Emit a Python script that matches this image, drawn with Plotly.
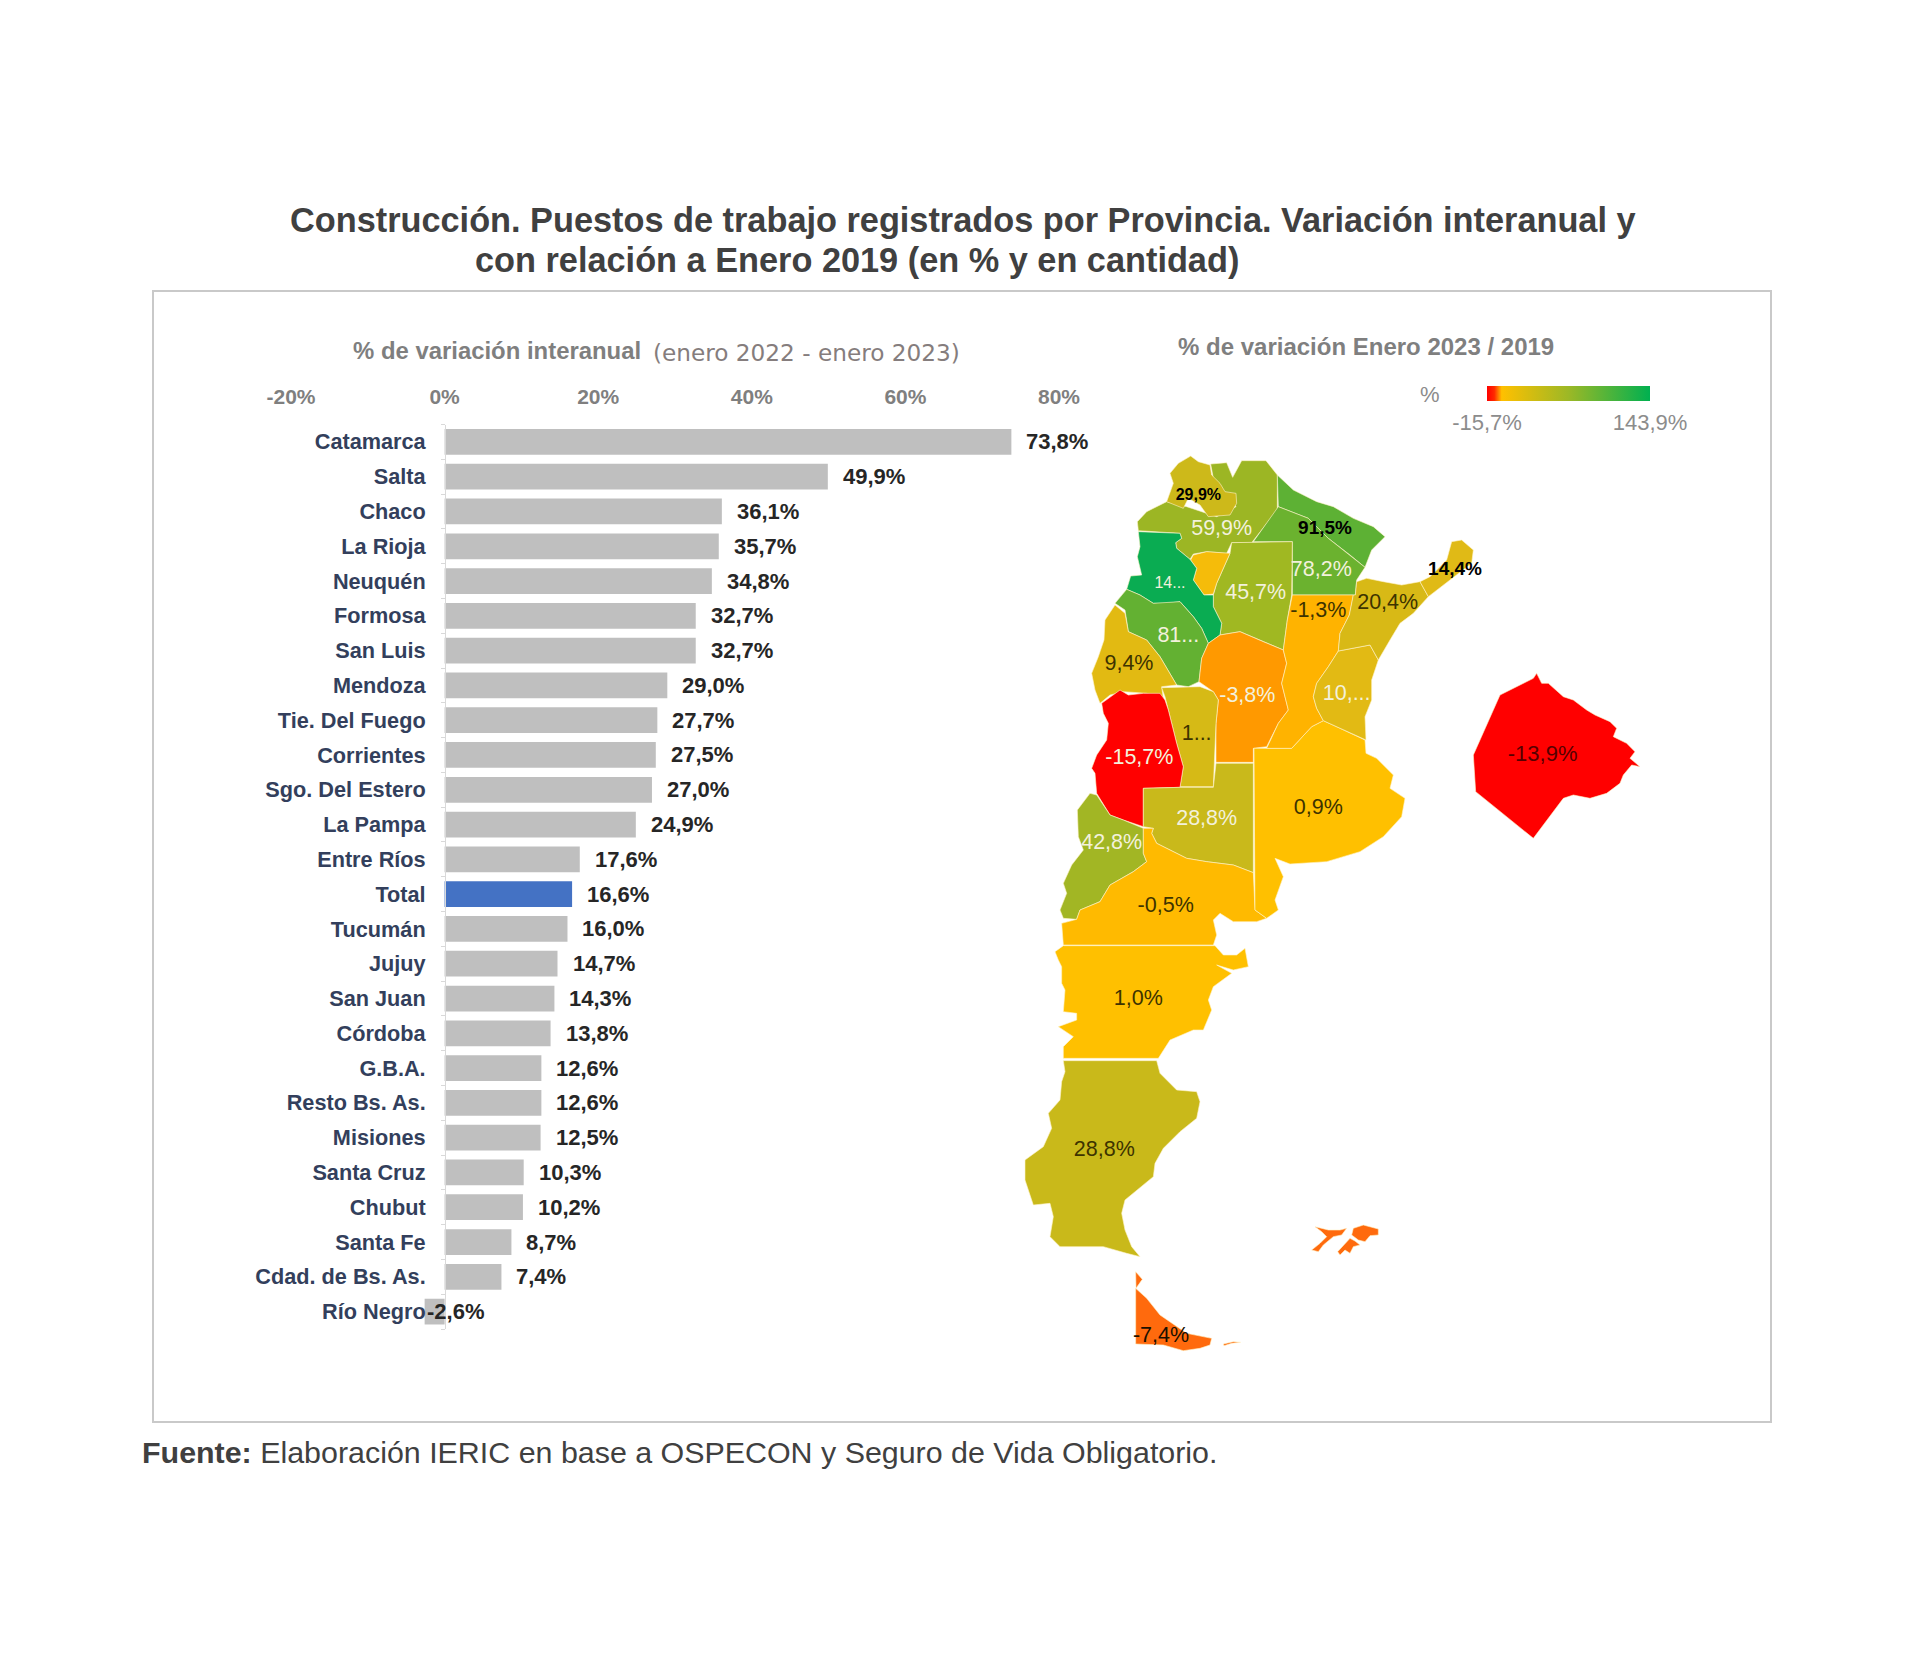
import plotly.graph_objects as go

# ---------- bar chart data ----------
CATEGORIES = ["Catamarca","Salta","Chaco","La Rioja","Neuquén","Formosa","San Luis","Mendoza",
              "Tie. Del Fuego","Corrientes","Sgo. Del Estero","La Pampa","Entre Ríos","Total",
              "Tucumán","Jujuy","San Juan","Córdoba","G.B.A.","Resto Bs. As.","Misiones",
              "Santa Cruz","Chubut","Santa Fe","Cdad. de Bs. As.","Río Negro"]
VALUES = [73.8,49.9,36.1,35.7,34.8,32.7,32.7,29.0,27.7,27.5,27.0,24.9,17.6,16.6,
          16.0,14.7,14.3,13.8,12.6,12.6,12.5,10.3,10.2,8.7,7.4,-2.6]
X_TICKS = [-20,0,20,40,60,80]
X_TICK_LABELS = ["-20%","0%","20%","40%","60%","80%"]

# ---------- map data: outlines (map units) ----------
SALTA = [(632,432),(680,428),(698,472),(725,422),(798,422),(832,465),(832,570),(755,668),(695,668),(680,700),(620,695),(580,702),(570,718),(530,685),(527,668),(545,655),(540,640),(415,632),(412,605),(440,575),(500,545),(560,560),(650,590),(708,560),(672,515),(640,475)]
JUJUY = [(572,408),(595,425),(630,435),(635,465),(660,490),(675,515),(708,520),(710,550),(690,585),(625,590),(600,555),(565,535),(550,565),(500,545),(520,490),(510,460),(535,430)]
FORMOSA = [(832,465),(880,510),(950,545),(1000,560),(1060,595),(1120,620),(1155,650),(1115,690),(1095,742),(1050,705),(985,655),(925,595),(835,560)]
CHACO = [(835,560),(925,595),(985,655),(1050,705),(1095,742),(1070,780),(1066,825),(877,825),(877,665),(760,665)]
SGO_ESTERO = [(695,668),(877,665),(875,825),(862,900),(850,990),(790,965),(720,935),(660,945),(665,910),(640,860),(640,825),(650,790),(690,700)]
TUCUMAN = [(580,705),(620,695),(690,700),(650,790),(640,822),(612,825),(580,780),(590,745),(572,720)]
CATAMARCA = [(415,635),(540,640),(545,655),(527,668),(530,685),(570,718),(590,745),(580,780),(612,825),(640,825),(640,860),(665,910),(660,945),(625,970),(605,925),(580,890),(540,845),(500,850),(460,850),(420,825),(380,808),(392,768),(425,765),(412,710),(420,680)]
LA_RIOJA = [(380,808),(420,825),(460,850),(540,845),(580,890),(605,925),(625,970),(605,1015),(597,1085),(565,1100),(530,1095),(510,1060),(480,1010),(440,960),(385,935),(375,870),(345,850)]
SAN_JUAN = [(345,855),(375,880),(385,935),(440,960),(480,1010),(510,1060),(530,1095),(485,1100),(490,1135),(440,1120),(370,1115),(330,1125),(300,1150),(285,1110),(275,1060),(295,1010),(312,960),(315,900)]
CORDOBA = [(660,945),(720,935),(790,965),(850,990),(860,1030),(845,1090),(865,1170),(835,1210),(800,1280),(760,1285),(760,1327),(648,1327),(648,1210),(655,1140),(640,1115),(597,1085),(605,1015),(625,970)]
SAN_LUIS = [(485,1103),(560,1102),(600,1100),(640,1115),(655,1140),(648,1210),(640,1400),(540,1400),(550,1340),(530,1270),(505,1170),(495,1130)]
MENDOZA = [(305,1150),(340,1125),(360,1110),(385,1125),(430,1120),(480,1120),(495,1140),(505,1170),(530,1270),(550,1340),(540,1402),(430,1405),(430,1520),(370,1500),(330,1485),(290,1420),(285,1360),(275,1345),(290,1305),(320,1260),(325,1210),(310,1180)]
LA_PAMPA = [(430,1405),(540,1402),(640,1402),(648,1330),(760,1330),(760,1658),(700,1635),(620,1625),(560,1615),(510,1590),(470,1570),(455,1540),(460,1525),(430,1520)]
NEUQUEN = [(270,1420),(290,1425),(330,1485),(370,1500),(430,1525),(430,1600),(440,1625),(400,1655),(330,1695),(300,1745),(240,1770),(230,1798),(190,1795),(180,1770),(200,1720),(190,1690),(215,1635),(250,1590),(235,1550),(232,1470)]
RIO_NEGRO = [(430,1525),(460,1525),(455,1540),(470,1570),(510,1590),(560,1615),(620,1625),(700,1635),(760,1658),(765,1770),(800,1795),(770,1805),(700,1805),(660,1780),(640,1800),(650,1845),(640,1875),(190,1875),(185,1810),(230,1798),(240,1770),(300,1745),(330,1695),(400,1655),(440,1625),(430,1600)]
BUENOS_AIRES = [(762,1285),(875,1285),(935,1220),(970,1202),(1020,1225),(1095,1260),(1098,1300),(1130,1315),(1180,1365),(1170,1405),(1215,1435),(1205,1490),(1150,1550),(1080,1595),(980,1625),(870,1632),(825,1615),(850,1670),(825,1740),(835,1770),(800,1795),(765,1770)]
SANTA_FE = [(877,825),(1060,825),(1048,885),(1020,940),(1015,993),(985,1040),(950,1090),(940,1130),(950,1165),(970,1202),(935,1220),(875,1285),(800,1285),(835,1210),(865,1170),(845,1090),(860,1030),(850,990),(862,900)]
ENTRE_RIOS = [(1015,993),(1060,985),(1110,975),(1135,1020),(1115,1080),(1115,1140),(1095,1190),(1098,1260),(1020,1225),(970,1202),(950,1165),(940,1130),(950,1090),(985,1040)]
CORRIENTES = [(1070,785),(1100,775),(1150,785),(1205,795),(1260,785),(1285,830),(1240,880),(1200,910),(1170,960),(1135,1020),(1110,975),(1060,985),(1015,993),(1020,940),(1048,885),(1060,825),(1066,825)]
MISIONES = [(1260,785),(1290,770),(1340,720),(1355,665),(1385,660),(1420,690),(1415,730),(1350,780),(1285,830)]
CHUBUT = [(165,1895),(190,1877),(645,1877),(670,1905),(710,1905),(735,1885),(745,1940),(700,1950),(650,1935),(695,1960),(640,2000),(625,2040),(635,2070),(610,2130),(580,2130),(510,2160),(475,2215),(190,2215),(190,2180),(220,2150),(175,2120),(230,2100),(230,2080),(190,2075),(195,2010),(185,1990),(185,1940),(175,1920)]
SANTA_CRUZ = [(190,2222),(470,2222),(480,2260),(530,2310),(590,2315),(600,2345),(590,2395),(540,2435),(490,2485),(465,2530),(460,2570),(425,2600),(375,2640),(365,2680),(375,2730),(395,2780),(420,2810),(380,2800),(310,2780),(180,2780),(150,2750),(160,2690),(150,2650),(100,2655),(75,2580),(75,2520),(130,2480),(155,2425),(145,2380),(180,2340),(185,2285),(195,2255)]
TIERRA_FUEGO = [(407,2905),(440,2935),(480,2985),(560,3040),(635,3055),(630,3075),(600,3085),(550,3092),(490,3075),(407,3072)]
TIERRA_FUEGO_NORTE = [(407,2855),(427,2878),(408,2905)]
ISLA_ESTADOS = [(670,3072),(700,3065),(722,3067),(695,3070),(672,3077)]
MALVINA_OESTE = [(945,2720),(985,2730),(1020,2730),(1040,2725),(1025,2745),(1000,2750),(970,2775),(955,2795),(935,2790),(960,2770),(980,2750),(965,2735)]
MALVINA_ESTE = [(1060,2725),(1090,2715),(1135,2727),(1135,2745),(1110,2747),(1095,2765),(1075,2760),(1055,2745)]
MALVINA_SUR = [(1050,2755),(1065,2763),(1080,2775),(1060,2780),(1050,2800),(1035,2790),(1020,2805),(1013,2795)]
CABA_INSET = [(1420,1305),(1500,1125),(1600,1075),(1610,1060),(1625,1090),(1645,1090),(1690,1130),(1720,1140),(1760,1170),(1785,1185),(1830,1205),(1850,1225),(1840,1250),(1880,1270),(1905,1295),(1890,1315),(1920,1340),(1895,1335),(1870,1365),(1860,1390),(1820,1420),(1770,1435),(1720,1425),(1690,1435),(1600,1555),(1427,1415)]

MAP_SHAPES = [
    (SALTA,"#9cb624"),(JUJUY,"#cdb91a"),(FORMOSA,"#5db134"),(CHACO,"#6bb22f"),(SGO_ESTERO,"#a0b822"),
    (TUCUMAN,"#f5bc0a"),(CATAMARCA,"#0aac52"),(LA_RIOJA,"#63b132"),(SAN_JUAN,"#e2ba12"),(CORDOBA,"#ff9900"),
    (SAN_LUIS,"#d6ba16"),(MENDOZA,"#ff0000"),(LA_PAMPA,"#c9b91b"),(NEUQUEN,"#a2b624"),(RIO_NEGRO,"#ffba00"),
    (BUENOS_AIRES,"#ffc000"),(SANTA_FE,"#ffb300"),(ENTRE_RIOS,"#e2ba14"),(CORRIENTES,"#d8b916"),(MISIONES,"#e0ba16"),
    (CHUBUT,"#ffc000"),(SANTA_CRUZ,"#c9b91a"),(TIERRA_FUEGO,"#ff6a0d"),(TIERRA_FUEGO_NORTE,"#ff6a0d"),(ISLA_ESTADOS,"#ff6a0d"),
    (MALVINA_OESTE,"#ff6a0d"),(MALVINA_ESTE,"#ff6a0d"),(MALVINA_SUR,"#ff6a0d"),(CABA_INSET,"#ff0000"),
]

DARK, LIGHT, BLACK = "#3d3300", "#f3f1dc", "#000000"
MAP_LABELS = ["<b>29,9%</b>","59,9%","<b>91,5%</b>","78,2%","<b>14,4%</b>","14...","45,7%","20,4%","-1,3%","81...","9,4%","-3,8%","10,...","1...","-15,7%","0,9%","28,8%","42,8%","-0,5%","1,0%","28,8%","-7,4%","-13,9%"]
MAP_LABEL_X = [595,665,975,964,1365,510,767,1163,955,535,387,742,1040,590,418,955,620,335,497,415,313,483,1628]
MAP_LABEL_Y = [529,630,627,752,752,792,820,850,875,950,1035,1130,1125,1245,1316,1466,1499,1571,1760,2038,2491,3050,1305]
MAP_LABEL_COLORS = [BLACK,LIGHT,BLACK,LIGHT,BLACK,LIGHT,LIGHT,DARK,DARK,LIGHT,DARK,LIGHT,LIGHT,DARK,LIGHT,DARK,LIGHT,LIGHT,DARK,DARK,DARK,"#1a1000","#560000"]
MAP_LABEL_SIZES = [16,21.5,19,21.5,19,16,21.5,21.5,21.5,21.5,21.5,21.5,21.5,21.5,21.5,21.5,21.5,21.5,21.5,21.5,21.5,21.5,22]

SCALE_VALUES = [-15.7,143.9]
SCALE_TEXT = ["-15,7%","143,9%"]

W, H = 1920, 1672
FONT = "Liberation Sans"
px = lambda v: v / W
py = lambda v: 1 - v / H

fig = go.Figure()

# bars
fig.add_trace(go.Bar(
    y=CATEGORIES, x=VALUES, orientation="h", width=0.74, cliponaxis=False,
    marker=dict(color=["#4472c4" if c == "Total" else "#bfbfbf" for c in CATEGORIES], line_width=0),
    hoverinfo="skip", xaxis="x", yaxis="y"))

# map provinces
for shape, colour in MAP_SHAPES:
    fig.add_trace(go.Scatter(
        x=[p[0] for p in shape] + [shape[0][0]], y=[p[1] for p in shape] + [shape[0][1]],
        mode="lines", fill="toself", fillcolor=colour,
        line=dict(color="rgba(255,244,200,0.6)", width=1), hoverinfo="skip",
        xaxis="x2", yaxis="y2"))

# map labels
fig.add_trace(go.Scatter(
    x=MAP_LABEL_X, y=MAP_LABEL_Y, text=MAP_LABELS, mode="text", textposition="middle center",
    textfont=dict(family=FONT, color=MAP_LABEL_COLORS, size=MAP_LABEL_SIZES),
    hoverinfo="skip", xaxis="x2", yaxis="y2"))

# colour scale legend
fig.add_trace(go.Scatter(
    x=[None, None], y=[None, None], mode="markers", xaxis="x2", yaxis="y2",
    marker=dict(
        color=SCALE_VALUES, cmin=SCALE_VALUES[0], cmax=SCALE_VALUES[1],
        colorscale=[[0,"#ff0000"],[0.045,"#ff2a00"],[0.09,"#ffc000"],[0.5,"#9cb826"],[1,"#00b050"]],
        colorbar=dict(
            orientation="h", x=px(1487), xanchor="left", y=py(386), yanchor="top",
            lenmode="pixels", len=163, thicknessmode="pixels", thickness=15,
            xpad=0, ypad=0, outlinewidth=0, borderwidth=0, ticks="outside", ticklen=3, tickcolor="rgba(0,0,0,0)",
            tickvals=SCALE_VALUES, ticktext=SCALE_TEXT,
            tickfont=dict(family=FONT, size=22, color="#8c8c8c")))))

layout_annotations = []

def note(text, x, y, size, color, anchor="left", family=FONT):
    layout_annotations.append(dict(
        text=text, x=px(x), y=py(y), xref="paper", yref="paper", xanchor=anchor, yanchor="middle",
        showarrow=False, font=dict(family=family, size=size, color=color)))

# bar value labels
for cat, val in zip(CATEGORIES, VALUES):
    label = f"{val:.1f}".replace(".", ",") + "%"
    layout_annotations.append(dict(
        text=f"<b>{label}</b>", x=val, y=cat, xref="x", yref="y", xanchor="left", yanchor="middle",
        xshift=13 if val > 0 else 0, showarrow=False,
        font=dict(family=FONT, size=22, color="#262626")))

note("<b>Construcción. Puestos de trabajo registrados por Provincia. Variación interanual y</b>", 287.5, 220, 34.3, "#404040")
note("<b>con relación a Enero 2019 (en % y en cantidad)</b>", 473, 260, 34.3, "#404040")
note("<b>% de variación interanual</b>", 351, 351, 23.9, "#7f7f7f")
note("(enero 2022 - enero 2023)", 651, 352, 23.2, "#857d7d", family="DejaVu Sans")
note("<b>% de variación Enero 2023 / 2019</b>", 1176, 346, 24, "#7f7f7f")
note("%", 1418, 394, 22, "#8c8c8c")
note("<b>Fuente:</b> Elaboración IERIC en base a OSPECON y Seguro de Vida Obligatorio.", 139.5, 1452, 30.4, "#404040")

fig.update_layout(
    width=W, height=H, margin=dict(l=0, r=0, t=0, b=0, autoexpand=False),
    paper_bgcolor="white", plot_bgcolor="rgba(0,0,0,0)", showlegend=False, bargap=0.26,
    annotations=layout_annotations,
    shapes=[dict(type="rect", xref="paper", yref="paper", x0=px(153), x1=px(1771), y0=py(1422), y1=py(291),
                 line=dict(color="#c9c9c9", width=2), fillcolor="rgba(0,0,0,0)", layer="below")],
    xaxis=dict(domain=[px(291), px(1059)], range=[-20, 80], side="top", anchor="y",
               tickvals=X_TICKS, ticktext=[f"<b>{t}</b>" for t in X_TICK_LABELS],
               tickfont=dict(family=FONT, size=21, color="#7f7f7f"), ticks="", showgrid=False,
               showline=False, zeroline=False, ticklabelstandoff=15),
    yaxis=dict(domain=[py(1329), py(424.5)], type="category", autorange="reversed",
               categoryorder="array", categoryarray=CATEGORIES,
               anchor="free", position=px(445), side="left",
               tickson="boundaries", ticks="outside", ticklen=4, tickcolor="#d9d9d9", tickwidth=1,
               showline=True, linecolor="#d9d9d9", linewidth=1, showgrid=False, zeroline=False,
               tickmode="array", tickvals=CATEGORIES, ticktext=[f"<b>{c}</b>" for c in CATEGORIES],
               tickfont=dict(family=FONT, size=21.7, color="#333f5c"), ticklabelstandoff=15),
    xaxis2=dict(domain=[0, 1], range=[-3000, 2760], visible=False, anchor="y2", fixedrange=True),
    yaxis2=dict(domain=[0, 1], range=[4056, -960], visible=False, anchor="x2", fixedrange=True),
)

fig.write_html("out.html", config=dict(displayModeBar=False), post_script="document.body.style.margin='0';")
